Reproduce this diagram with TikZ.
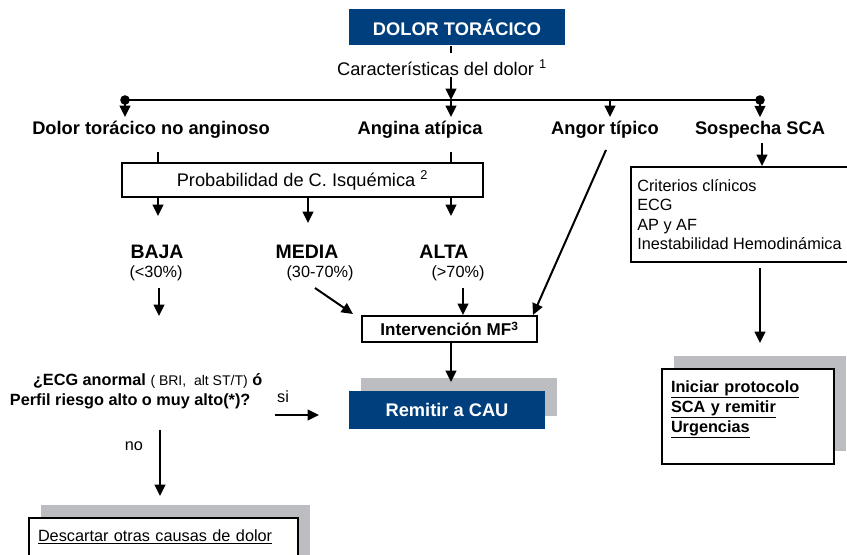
\documentclass[tikz,border=0pt]{standalone}
\RequirePackage{fontspec}
\RequirePackage{tikz}
\setmainfont{Liberation Sans}
\usetikzlibrary{arrows.meta}
\usetikzlibrary{shadows}
\definecolor{azul}{RGB}{0,63,125}
\definecolor{sombra}{RGB}{188,189,193}
\newcommand{\grande}{\fontsize{13.7}{16}\selectfont}
\newcommand{\chica}{\fontsize{12.2}{14.5}\selectfont}
\newcommand{\nivel}{\fontsize{14.6}{17}\selectfont}
\tikzset{
  cajaazul/.style={fill=azul,text=white,font=\grande\bfseries,inner sep=0pt},
  caja/.style={draw,fill=white,line width=1.5pt,inner sep=0pt},
  sombreada/.style={drop shadow={shadow xshift=9pt,shadow yshift=9.75pt,fill=sombra,opacity=1}},
  rotulo/.style={font=\grande\bfseries,inner sep=2.5pt},
  nivelt/.style={font=\nivel\bfseries,inner sep=0pt},
  pct/.style={font=\chica,inner sep=0pt}
}
\begin{document}
\begin{tikzpicture}[>={Triangle[width=8pt,length=8.5pt]},x=0.75pt,y=-0.75pt,line width=1.5pt]
                        \path[use as bounding box] (0,0) rectangle (847,554);
                        \clip (0,0) rectangle (847,554);
                        \node[cajaazul,minimum width=162pt,minimum height=27pt] (titulo) at (457,27) {DOLOR TORÁCICO};
                        \node[font=\grande,inner sep=0pt] (caract) at (442,68) {Características del dolor \textsuperscript{1}};
                        \coordinate (tronco) at (451,53);
                        \coordinate (barra) at (451,100);
                        \coordinate (izq) at (125,100);
                        \coordinate (der) at (760,100);
                        \coordinate (tip) at (610,100);
                        \draw (titulo.south -| tronco) -- (tronco);
                        \draw[->] (caract.south -| barra) -- (barra);
                        \draw (izq) -- (der);
                        \fill (izq) circle (3.6pt);
                        \fill (der) circle (3.6pt);
                        \node[rotulo] (nona) at (151,130) {Dolor torácico no anginoso};
                        \node[rotulo] (atip) at (420,130) {Angina atípica};
                        \node[rotulo] (angor) at (605,130) {Angor típico};
                        \node[rotulo] (sosp) at (760,130) {Sospecha SCA};
                        \draw[->] (izq) -- (izq |- nona.north);
                        \draw[->] (barra) -- (barra |- atip.north);
                        \draw[->] (tip) -- (tip |- angor.north);
                        \draw[->] (der) -- (der |- sosp.north);
                        % probabilidad
                        \node[caja,minimum width=270.75pt,minimum height=25.5pt,font=\grande] (prob) at (302.5,180) {Probabilidad de C. Isquémica \textsuperscript{2}};
                        \coordinate (nonaB) at (158,152);
                        \coordinate (atipB) at (451,152);
                        \draw (nonaB) -- (nonaB |- prob.north);
                        \draw (atipB) -- (atipB |- prob.north);
                        \coordinate (bajaT) at (158,216);
                        \coordinate (mediaT) at (308,223);
                        \coordinate (altaT) at (451,216);
                        \draw[->] (prob.south -| bajaT) -- (bajaT);
                        \draw[->] (prob.south -| mediaT) -- (mediaT);
                        \draw[->] (prob.south -| altaT) -- (altaT);
                        \node[nivelt] (baja) at (157,252) {BAJA};
                        \node[nivelt] (media) at (307,252) {MEDIA};
                        \node[nivelt] (alta) at (444,252) {ALTA};
                        \node[pct] (bajap) at (156,273) {(<30\%)};
                        \node[pct] (mediap) at (320,273) {(30-70\%)};
                        \node[pct] (altap) at (458,273) {(>70\%)};
                        % intervencion
                        \node[caja,minimum width=131.25pt,minimum height=19.5pt,font={\fontsize{12.8}{15}\selectfont\bfseries}] (interv) at (449.5,329) {Intervención MF\textsuperscript{3}};
                        \coordinate (bajaA) at (159,288);
                        \coordinate (bajaZ) at (159,316);
                        \coordinate (mediaA) at (315,288);
                        \coordinate (altaA) at (463,288);
                        \coordinate (angorB) at (606,150);
                        \draw[->] (bajaA) -- (bajaZ);
                        \draw[->] (mediaA) -- ([shift={(-8,-1)}]interv.north west);
                        \draw[->] (altaA) -- (altaA |- interv.north);
                        \draw[->] (angorB) -- ([xshift=-3.75pt]interv.north east);
                        \node[cajaazul,sombreada,minimum width=147pt,minimum height=28.5pt] (rem) at (447,410) {Remitir a CAU};
                        \coordinate (remT) at (451,382);
                        \draw[->] (interv.south -| remT) -- (remT);
                        % pregunta ECG
                        \node[anchor=west,font=\chica\bfseries,inner sep=0pt] (ecg1) at (32,381) {¿ECG anormal {\normalfont\fontsize{10.5}{12}\selectfont ( BRI,\ \ alt ST/T)} ó};
                        \node[anchor=west,font=\chica\bfseries,inner sep=0pt] (ecg2) at (9,401) {Perfil riesgo alto o muy alto(*)?};
                        \node[pct] (si) at (283,397) {si};
                        \node[pct] (no) at (134,446) {no};
                        \coordinate (siA) at (275,415);
                        \coordinate (siZ) at (319,415);
                        \coordinate (noA) at (160,430);
                        \coordinate (noZ) at (160,496);
                        \draw[->] (siA) -- (siZ);
                        \draw[->] (noA) -- (noZ);
                        \node[caja,sombreada,anchor=north west,minimum width=201.75pt,minimum height=40.5pt,text width=188.25pt,inner xsep=6.75pt,align=left,font=\chica] (desc) at (28,517) {\underline{Descartar otras causas de dolor}\\\mbox{}};
                        % sospecha SCA
                        \node[caja,minimum width=162.75pt,minimum height=71.25pt,align=left,font=\chica] (crit) at (739.5,214.5) {Criterios clínicos\\ECG\\AP y AF\\Inestabilidad Hemodinámica};
                        \coordinate (sospB) at (762,143);
                        \draw[->] (sospB) -- (sospB |- crit.north);
                        \node[caja,sombreada,minimum width=129pt,minimum height=71.25pt,text width=115.5pt,inner xsep=6.75pt,align=left,font={\fontsize{12.2}{15}\selectfont\bfseries}] (inic) at (748,416.5) {\underline{Iniciar protocolo}\\\underline{SCA y remitir}\\\underline{Urgencias}\\\mbox{}};
                        \coordinate (critA) at (760,268);
                        \coordinate (inicA) at (760,343);
                        \draw[->] (critA) -- (inicA);
                    \end{tikzpicture}
\end{document}
